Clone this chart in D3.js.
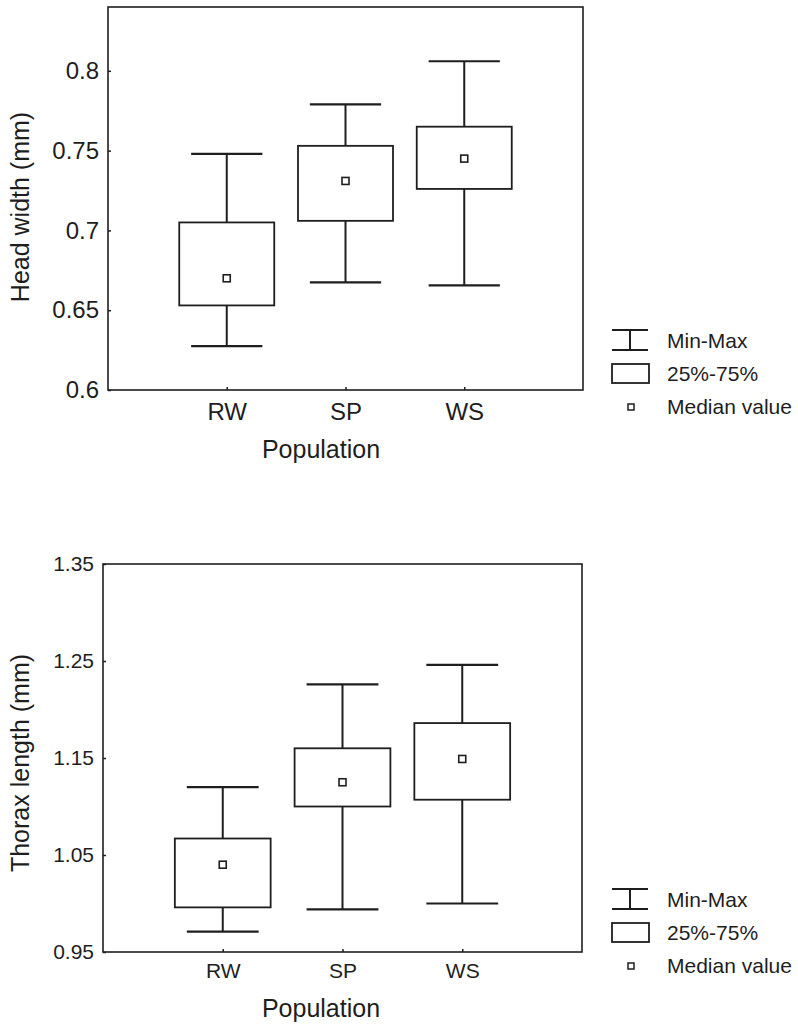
<!DOCTYPE html>
<html>
<head>
<meta charset="utf-8">
<script src="https://cdn.jsdelivr.net/npm/d3@7"></script>
<style>
  body { margin: 0; background: #fff; }
  svg { display: block; font-family: "Liberation Sans", Arial, sans-serif; }
</style>
</head>
<body>
<div id="chart"></div>
<script>
// categories
const populations = ["RW", "SP", "WS"];

// head width (mm)
const headMin = [0.6275, 0.6675, 0.6655];
const headQ1 = [0.653, 0.706, 0.726];
const headMedian = [0.670, 0.731, 0.745];
const headQ3 = [0.705, 0.753, 0.765];
const headMax = [0.748, 0.779, 0.806];
const headTicks = [0.6, 0.65, 0.7, 0.75, 0.8];

// thorax length (mm)
const thoraxMin = [0.971, 0.994, 1.0];
const thoraxQ1 = [0.996, 1.100, 1.107];
const thoraxMedian = [1.040, 1.125, 1.149];
const thoraxQ3 = [1.067, 1.160, 1.186];
const thoraxMax = [1.120, 1.226, 1.246];
const thoraxTicks = [0.95, 1.05, 1.15, 1.25, 1.35];

const legendLabels = ["Min-Max", "25%-75%", "Median value"];

const width = 798;
const height = 1024;
const ink = "#1e1e1e";

const svg = d3.select("#chart")
    .append("svg")
    .attr("width", width)
    .attr("height", height);

function rows(mins, q1s, meds, q3s, maxs) {
    return populations.map((p, i) => ({
        pop: p, min: mins[i], q1: q1s[i], med: meds[i], q3: q3s[i], max: maxs[i]
    }));
}

const panels = [
    {
        data: rows(headMin, headQ1, headMedian, headQ3, headMax),
        ticks: headTicks, domain: [0.6, 0.84], fmt: d3.format(""),
        left: 108, right: 583, top: 7, bottom: 390,
        tickFont: 24, catFont: 24, catPad: 13,
        yTitle: "Head width (mm)", yTitleY: 207, popY: 458,
        legendY: 330
    },
    {
        data: rows(thoraxMin, thoraxQ1, thoraxMedian, thoraxQ3, thoraxMax),
        ticks: thoraxTicks, domain: [0.95, 1.35], fmt: d3.format(".2f"),
        left: 103, right: 582, top: 564, bottom: 952,
        tickFont: 21, catFont: 21, catPad: 11,
        yTitle: "Thorax length (mm)", yTitleY: 763, popY: 1017,
        legendY: 889
    }
];

panels.forEach(p => {
    const x = d3.scalePoint()
        .domain(populations)
        .range([p.left, p.right])
        .padding(1);

    const y = d3.scaleLinear()
        .domain(p.domain)
        .range([p.bottom, p.top]);

    const step = x.step();
    const boxW = step * 0.8;
    const capW = step * 0.6;

    const g = svg.append("g");

    // axes
    g.append("g")
        .attr("transform", "translate(" + p.left + ",0)")
        .call(d3.axisLeft(y).tickValues(p.ticks).tickFormat(p.fmt).tickSize(-3).tickPadding(9))
        .call(a => a.select(".domain").remove())
        .call(a => a.selectAll("line").attr("stroke", ink).attr("stroke-width", 1.5))
        .call(a => a.selectAll("text")
            .attr("fill", ink)
            .style("font-size", p.tickFont + "px")
            .style("font-family", "'Liberation Sans', Arial, sans-serif"));

    g.append("g")
        .attr("transform", "translate(0," + p.bottom + ")")
        .call(d3.axisBottom(x).tickSize(-3).tickPadding(p.catPad))
        .call(a => a.select(".domain").remove())
        .call(a => a.selectAll("line").attr("stroke", ink).attr("stroke-width", 1.5))
        .call(a => a.selectAll("text")
            .attr("fill", ink)
            .style("font-size", p.catFont + "px")
            .style("font-family", "'Liberation Sans', Arial, sans-serif"));

    // frame
    g.append("rect")
        .attr("x", p.left)
        .attr("y", p.top)
        .attr("width", p.right - p.left)
        .attr("height", p.bottom - p.top)
        .attr("fill", "none")
        .attr("stroke", ink)
        .attr("stroke-width", 1.6);

    const box = g.selectAll(".box")
        .data(p.data)
        .join("g")
        .attr("class", "box")
        .attr("stroke", ink)
        .attr("fill", "none");

    // whiskers
    box.append("line")
        .attr("x1", d => x(d.pop)).attr("x2", d => x(d.pop))
        .attr("y1", d => y(d.max)).attr("y2", d => y(d.q3))
        .attr("stroke-width", 2);
    box.append("line")
        .attr("x1", d => x(d.pop)).attr("x2", d => x(d.pop))
        .attr("y1", d => y(d.q1)).attr("y2", d => y(d.min))
        .attr("stroke-width", 2);
    box.append("line")
        .attr("x1", d => x(d.pop) - capW / 2).attr("x2", d => x(d.pop) + capW / 2)
        .attr("y1", d => y(d.max)).attr("y2", d => y(d.max))
        .attr("stroke-width", 2.2);
    box.append("line")
        .attr("x1", d => x(d.pop) - capW / 2).attr("x2", d => x(d.pop) + capW / 2)
        .attr("y1", d => y(d.min)).attr("y2", d => y(d.min))
        .attr("stroke-width", 2.2);

    // 25-75 box
    box.append("rect")
        .attr("x", d => x(d.pop) - boxW / 2)
        .attr("y", d => y(d.q3))
        .attr("width", boxW)
        .attr("height", d => y(d.q1) - y(d.q3))
        .attr("stroke-width", 1.8);

    // median
    box.append("rect")
        .attr("x", d => x(d.pop) - 3.5)
        .attr("y", d => y(d.med) - 3.5)
        .attr("width", 7)
        .attr("height", 7)
        .attr("stroke-width", 1.6);

    // titles
    svg.append("text")
        .attr("transform", "translate(29," + p.yTitleY + ") rotate(-90)")
        .attr("text-anchor", "middle")
        .attr("fill", ink)
        .style("font-size", "25px")
        .text(p.yTitle);

    svg.append("text")
        .attr("x", 321)
        .attr("y", p.popY)
        .attr("text-anchor", "middle")
        .attr("fill", ink)
        .style("font-size", "25px")
        .text("Population");

    // legend
    const lg = svg.append("g")
        .attr("transform", "translate(612," + p.legendY + ")")
        .attr("stroke", ink)
        .attr("fill", "none");

    lg.append("line").attr("x1", 0).attr("x2", 36).attr("y1", 0).attr("y2", 0).attr("stroke-width", 2);
    lg.append("line").attr("x1", 0).attr("x2", 36).attr("y1", 20).attr("y2", 20).attr("stroke-width", 2);
    lg.append("line").attr("x1", 18).attr("x2", 18).attr("y1", 0).attr("y2", 20).attr("stroke-width", 2);

    lg.append("rect").attr("x", 0).attr("y", 34).attr("width", 37).attr("height", 19).attr("stroke-width", 1.8);

    lg.append("rect").attr("x", 16).attr("y", 74).attr("width", 6).attr("height", 6).attr("stroke-width", 1.5);

    lg.selectAll("text")
        .data(legendLabels)
        .join("text")
        .attr("x", 55)
        .attr("y", (d, i) => 18 + i * 33)
        .attr("stroke", "none")
        .attr("fill", ink)
        .style("font-size", "21px")
        .text(d => d);
});
</script>
</body>
</html>
